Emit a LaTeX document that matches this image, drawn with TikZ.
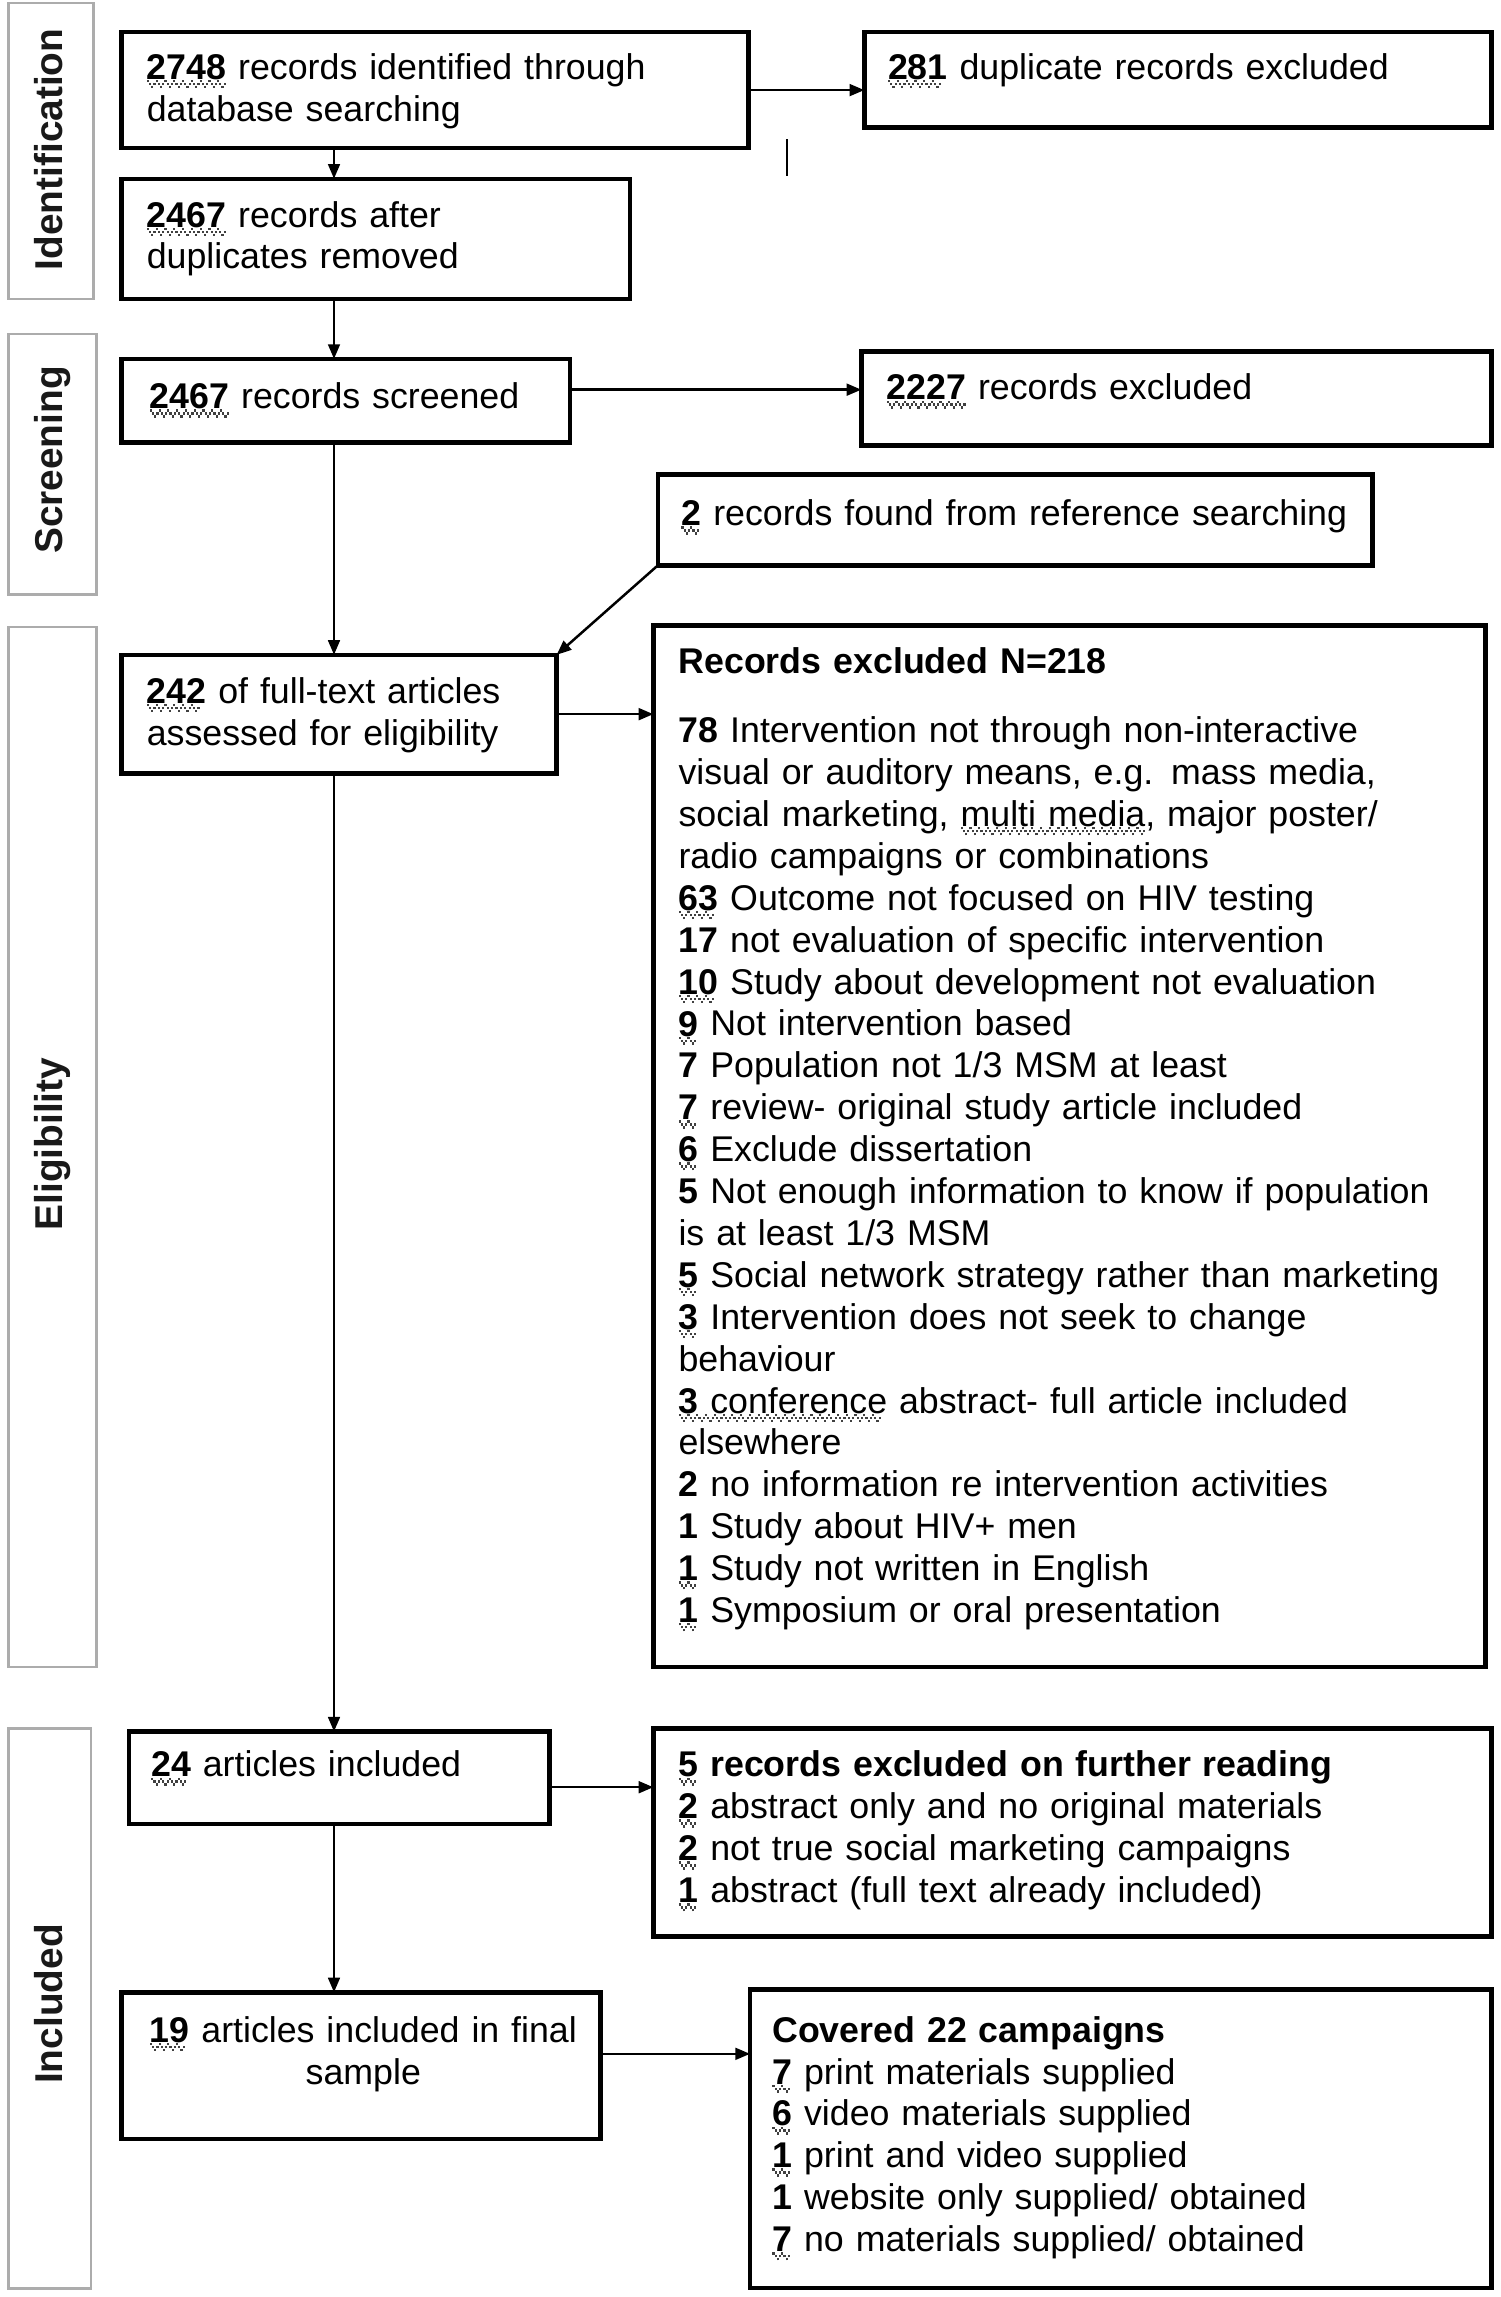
\documentclass[tikz,border=0pt]{standalone}
\usepackage{fontspec}
\setmainfont{Liberation Sans}
\usetikzlibrary{arrows.meta,calc}
\definecolor{sqc}{gray}{0.25}
\newcommand\wvseg{\hbox{\raisebox{-2pt}{\rule{1.5pt}{1.6pt}}\raisebox{-4pt}{\rule{1.5pt}{1.6pt}}\raisebox{-6pt}{\rule{1.5pt}{1.6pt}}\raisebox{-4pt}{\rule{1.5pt}{1.6pt}}}}
\newcommand\sq[1]{\leavevmode\setbox0\hbox{#1}\rlap{\color{sqc}\leaders\wvseg\hskip\wd0}\box0\relax}
\newcommand\nb[1]{\textbf{#1}}
\newcommand\bx[5]{\node[box,minimum width={#4-#2},minimum height={#5-#3}] (#1) at ({(#2+#4)/2},{(#3+#5)/2}) {};}
\tikzset{
  box/.style={draw=black,line width=3pt,inner sep=0pt,outer sep=0pt},
  sidebox/.style={draw=gray!65,line width=1.8pt,inner sep=0pt,outer sep=0pt},
  sidelabel/.style={rotate=90,anchor=base,inner sep=0pt,font=\fontsize{26.5}{30}\selectfont\bfseries,text=black!90},
  txt/.style={anchor=base west,align=left,text width=620pt,inner sep=0pt,font=\fontsize{24.4}{28.6}\selectfont},
  conn/.style={draw=black,line width=1.7pt},
  arr/.style={conn,-{Triangle[length=10pt,width=8pt]}}
}
\begin{document}
\begin{tikzpicture}[x=1pt,y=-1pt]
\useasboundingbox (0,0) rectangle (1024,1568);
% side boxes
\node[sidebox,minimum width=58,minimum height=202] (sideI) at (35,103) {};
\node[sidebox,minimum width=60,minimum height=178] (sideS) at (36,317) {};
\node[sidebox,minimum width=60,minimum height=710] (sideE) at (36,783) {};
\node[sidebox,minimum width=56,minimum height=382] (sideN) at (34,1371) {};
\node[sidelabel] (labI) at (43,102) {Identification};
\node[sidelabel] (labS) at (43,314) {Screening};
\node[sidelabel] (labE) at (43,781) {Eligibility};
\node[sidelabel] (labN) at (43,1368) {Included};
% boxes
\bx{b1}{83}{22}{511}{101}
\bx{b2}{590}{22}{1018}{87}
\bx{b3}{83}{122}{430}{204}
\bx{b4}{83}{245}{389}{302}
\bx{b5}{588}{240}{1018}{304}
\bx{b6}{449}{324}{937}{386}
\bx{b7}{83}{447}{380}{528}
\bx{b8}{446}{427}{1014}{1138}
\bx{b9}{88}{1182}{375}{1245}
\bx{b10}{446}{1180}{1018}{1322}
\bx{b11}{83}{1360}{410}{1460}
\bx{b12}{512}{1358}{1018}{1562}
% texts
\node[txt] (t1) at (100,54) {\sq{\nb{2748}} records identified through\\database searching};
\node[txt] (t2) at (606,54) {\sq{\nb{281}} duplicate records excluded};
\node[txt] (t3) at (100,155) {\sq{\nb{2467}} records after\\duplicates removed};
\node[txt] (t4) at (102,279) {\sq{\nb{2467}} records screened};
\node[txt] (t5) at (605,273) {\sq{\nb{2227}} records excluded};
\node[txt] (t6) at (465,359) {\sq{\nb{2}} records found from reference searching};
\node[txt] (t7) at (100,480) {\sq{\nb{242}} of full-text articles\\assessed for eligibility};
\node[txt] (t8) at (463,460) {\textbf{Records excluded N=218}\\[18.4pt]
\nb{78} Intervention not through non-interactive\\
visual or auditory means, e.g. mass media,\\
social marketing, \sq{multi media}, major poster/\\
radio campaigns or combinations\\
\sq{\nb{63}} Outcome not focused on HIV testing\\
\nb{17} not evaluation of specific intervention\\
\sq{\nb{10}} Study about development not evaluation\\
\sq{\nb{9}} Not intervention based\\
\nb{7} Population not 1/3 MSM at least\\
\sq{\nb{7}} review- original study article included\\
\sq{\nb{6}} Exclude dissertation\\
\nb{5} Not enough information to know if population\\
is at least 1/3 MSM\\
\sq{\nb{5}} Social network strategy rather than marketing\\
\sq{\nb{3}} Intervention does not seek to change\\
behaviour\\
\sq{\nb{3} conference} abstract- full article included\\
elsewhere\\
\nb{2} no information re intervention activities\\
\nb{1} Study about HIV+ men\\
\sq{\nb{1}} Study not written in English\\
\sq{\nb{1}} Symposium or oral presentation};
\node[txt] (t9) at (103,1213) {\sq{\nb{24}} articles included};
\node[txt] (t10) at (463,1213) {\textbf{\sq{5} records excluded on further reading}\\
\sq{\nb{2}} abstract only and no original materials\\
\sq{\nb{2}} not true social marketing campaigns\\
\sq{\nb{1}} abstract (full text already included)};
\node[txt,anchor=base,align=center,text width=320pt] (t11) at (248,1394) {\sq{\nb{19}} articles included in final\\sample};
\node[txt] (t12) at (527,1394) {\textbf{Covered 22 campaigns}\\
\sq{\nb{7}} print materials supplied\\
\sq{\nb{6}} video materials supplied\\
\sq{\nb{1}} print and video supplied\\
\nb{1} website only supplied/ obtained\\
\sq{\nb{7}} no materials supplied/ obtained};
% connectors
\coordinate (spine) at (228,0);
\draw[arr] (b1.east) -- (b1.east -| b2.west);
\draw[conn,line width=1.5pt] (537,95) -- (537,120);
\draw[arr] (b1.south -| spine) -- (b3.north -| spine);
\draw[arr] (b3.south -| spine) -- (b4.north -| spine);
\coordinate (y45) at (0,266);
\draw[arr] (b4.east |- y45) -- (b5.west |- y45);
\draw[arr] (b6.south west) -- (b7.north east);
\draw[arr] (b4.south -| spine) -- (b7.north -| spine);
\draw[arr] (b7.east) -- (b7.east -| b8.west);
\draw[arr] (b7.south -| spine) -- (b9.north -| spine);
\coordinate (y910) at (0,1220);
\draw[arr] (b9.east |- y910) -- (b10.west |- y910);
\draw[arr] (b9.south -| spine) -- (b11.north -| spine);
\coordinate (y1112) at (0,1402);
\draw[arr] (b11.east |- y1112) -- (b12.west |- y1112);
\end{tikzpicture}
\end{document}
